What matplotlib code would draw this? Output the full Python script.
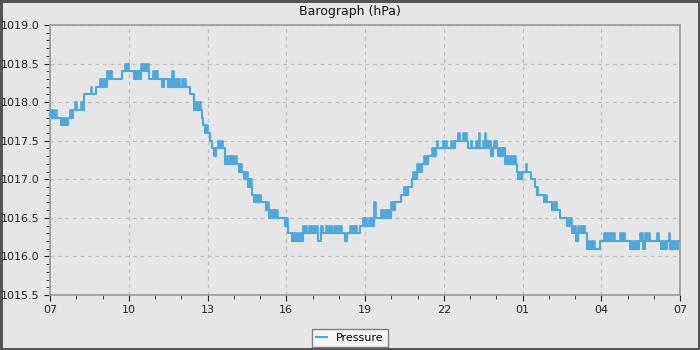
import numpy as np
import matplotlib
matplotlib.use("Agg")
import matplotlib.pyplot as plt
from matplotlib.dates import HourLocator, DateFormatter

# pressure trace: each segment starts at t_start (hours after 07:00) and holds
# between p_lo and p_hi (p_lo == p_hi -> steady, otherwise the sensor flickers)
t_start = [0.00, 0.27, 0.43, 0.69, 0.75, 0.88, 0.94, 1.04, 1.19, 1.30,
           1.55, 1.59, 1.76, 1.89, 2.18, 2.36, 2.74, 2.87, 3.00, 3.20,
           3.28, 3.33, 3.48, 3.76, 3.92, 4.13, 4.28, 4.36, 4.51, 4.66,
           4.71, 4.95, 5.04, 5.17, 5.33, 5.50, 5.63, 5.69, 5.74, 5.78,
           5.84, 5.90, 6.03, 6.10, 6.18, 6.26, 6.31, 6.39, 6.60, 6.67,
           6.86, 6.95, 7.11, 7.20, 7.33, 7.40, 7.53, 7.68, 7.78, 8.04,
           8.23, 8.36, 8.48, 8.57, 8.70, 8.95, 9.08, 9.22, 9.63, 9.78,
           9.88, 10.22, 10.31, 10.41, 10.51, 10.75, 10.82, 11.11, 11.24, 11.33,
           11.43, 11.71, 11.81, 11.94, 12.06, 12.15, 12.36, 12.40, 12.61, 12.99,
           13.14, 13.37, 13.50, 13.65, 13.80, 13.84, 13.97, 14.16, 14.26, 14.39,
           14.54, 14.69, 14.74, 14.79, 14.98, 15.11, 15.28, 15.43, 15.53, 15.62,
           15.72, 15.87, 15.94, 16.04, 16.09, 16.23, 16.33, 16.39, 16.48, 16.57,
           16.62, 16.79, 16.86, 16.91, 17.02, 17.08, 17.24, 17.33, 17.75, 17.78,
           17.84, 17.97, 18.13, 18.18, 18.31, 18.48, 18.54, 18.60, 18.82, 18.92,
           19.11, 19.33, 19.43, 19.71, 19.87, 20.04, 20.11, 20.37, 20.46, 20.77,
           20.97, 21.09, 21.51, 21.73, 21.92, 22.11, 22.43, 22.49, 22.58, 22.65,
           22.87, 23.12, 23.19, 23.29, 23.50, 23.57, 23.62, 23.92]
p_lo = [1017.8, 1017.8, 1017.7, 1017.8, 1017.8, 1017.9, 1017.9, 1017.9, 1017.9, 1018.1,
        1018.1, 1018.1, 1018.2, 1018.2, 1018.3, 1018.3, 1018.4, 1018.4, 1018.4, 1018.3,
        1018.4, 1018.3, 1018.4, 1018.3, 1018.3, 1018.3, 1018.2, 1018.3, 1018.2, 1018.2,
        1018.2, 1018.2, 1018.2, 1018.2, 1018.1, 1017.9, 1017.9, 1017.9, 1017.9, 1017.8,
        1017.7, 1017.6, 1017.6, 1017.5, 1017.4, 1017.3, 1017.4, 1017.4, 1017.4, 1017.2,
        1017.3, 1017.2, 1017.2, 1017.1, 1017.1, 1017.0, 1016.9, 1016.8, 1016.7, 1016.7,
        1016.6, 1016.5, 1016.6, 1016.5, 1016.5, 1016.4, 1016.3, 1016.2, 1016.3, 1016.3,
        1016.3, 1016.2, 1016.3, 1016.3, 1016.3, 1016.3, 1016.3, 1016.3, 1016.2, 1016.3,
        1016.3, 1016.3, 1016.4, 1016.4, 1016.4, 1016.4, 1016.5, 1016.5, 1016.5, 1016.6,
        1016.7, 1016.8, 1016.8, 1016.9, 1017.0, 1017.0, 1017.1, 1017.2, 1017.2, 1017.3,
        1017.3, 1017.4, 1017.4, 1017.4, 1017.4, 1017.4, 1017.4, 1017.5, 1017.5, 1017.5,
        1017.5, 1017.5, 1017.4, 1017.4, 1017.4, 1017.4, 1017.4, 1017.4, 1017.4, 1017.5,
        1017.4, 1017.3, 1017.4, 1017.4, 1017.4, 1017.3, 1017.4, 1017.2, 1017.2, 1017.1,
        1017.0, 1017.1, 1017.1, 1017.1, 1017.0, 1016.9, 1016.8, 1016.8, 1016.7, 1016.7,
        1016.6, 1016.6, 1016.5, 1016.4, 1016.3, 1016.2, 1016.3, 1016.3, 1016.1, 1016.1,
        1016.2, 1016.2, 1016.2, 1016.2, 1016.2, 1016.1, 1016.2, 1016.2, 1016.1, 1016.2,
        1016.2, 1016.2, 1016.2, 1016.1, 1016.2, 1016.2, 1016.1, 1016.2]
p_hi = [1017.9, 1017.8, 1017.8, 1017.8, 1017.9, 1017.9, 1018.0, 1017.9, 1018.0, 1018.1,
        1018.2, 1018.1, 1018.2, 1018.3, 1018.4, 1018.3, 1018.4, 1018.5, 1018.4, 1018.4,
        1018.4, 1018.4, 1018.5, 1018.3, 1018.4, 1018.3, 1018.3, 1018.3, 1018.3, 1018.4,
        1018.3, 1018.2, 1018.3, 1018.2, 1018.1, 1018.0, 1017.9, 1018.0, 1017.9, 1017.8,
        1017.7, 1017.7, 1017.6, 1017.5, 1017.4, 1017.4, 1017.4, 1017.5, 1017.4, 1017.3,
        1017.3, 1017.3, 1017.2, 1017.2, 1017.1, 1017.1, 1017.0, 1016.8, 1016.8, 1016.7,
        1016.7, 1016.6, 1016.6, 1016.6, 1016.5, 1016.5, 1016.3, 1016.3, 1016.4, 1016.3,
        1016.4, 1016.2, 1016.4, 1016.3, 1016.4, 1016.3, 1016.4, 1016.3, 1016.2, 1016.3,
        1016.4, 1016.3, 1016.4, 1016.5, 1016.4, 1016.5, 1016.7, 1016.5, 1016.6, 1016.7,
        1016.7, 1016.8, 1016.9, 1016.9, 1017.0, 1017.1, 1017.2, 1017.2, 1017.3, 1017.3,
        1017.4, 1017.4, 1017.5, 1017.4, 1017.5, 1017.4, 1017.5, 1017.5, 1017.6, 1017.5,
        1017.6, 1017.5, 1017.4, 1017.5, 1017.4, 1017.5, 1017.6, 1017.4, 1017.5, 1017.6,
        1017.5, 1017.4, 1017.4, 1017.5, 1017.4, 1017.4, 1017.4, 1017.3, 1017.2, 1017.1,
        1017.1, 1017.1, 1017.2, 1017.1, 1017.0, 1016.9, 1016.9, 1016.8, 1016.8, 1016.7,
        1016.7, 1016.6, 1016.5, 1016.5, 1016.4, 1016.3, 1016.4, 1016.3, 1016.2, 1016.1,
        1016.2, 1016.3, 1016.2, 1016.3, 1016.2, 1016.2, 1016.2, 1016.3, 1016.2, 1016.3,
        1016.2, 1016.3, 1016.2, 1016.2, 1016.2, 1016.3, 1016.2, 1016.2]
t_end = 24.0
start = np.datetime64("2024-01-01T07:00")

line_c = "#4ea9da"
bg = "#e6e6e6"

def to_time(h):
    return start + (np.asarray(h) * 3600).round().astype("timedelta64[s]")

edges = to_time(t_start + [t_end])
lo = np.array(p_lo + [p_lo[-1]])
hi = np.array(p_hi + [p_hi[-1]])

fig = plt.figure(figsize=(7, 3.5), dpi=100, facecolor=bg, edgecolor="#555555", linewidth=3.5)
ax = fig.add_axes([50/700, 1-295/350, 630/700, 270/350], facecolor=bg)

ax.step(edges, lo, where="post", color=line_c, lw=1.5, label="Pressure", zorder=3)
for i in range(len(t_start)):
    if hi[i] > lo[i]:
        ax.fill_between(edges[i:i+2], lo[i], hi[i], color=line_c, lw=1.2, zorder=3)

ax.set_xlim(edges[0], edges[-1])
ax.set_ylim(1015.5, 1019.0)
ax.xaxis.set_major_locator(HourLocator(byhour=range(1, 24, 3)))
ax.xaxis.set_minor_locator(HourLocator())
ax.xaxis.set_major_formatter(DateFormatter("%H"))
ax.yaxis.set_major_locator(plt.MultipleLocator(0.5))
ax.yaxis.set_minor_locator(plt.MultipleLocator(0.1))
ax.yaxis.set_major_formatter(plt.FormatStrFormatter("%.1f"))
ax.tick_params(which="both", direction="out", labelsize=8, colors="#222222")
ax.tick_params(which="major", length=4)
ax.tick_params(which="minor", length=3)
ax.grid(which="major", color="#c2c2c2", ls=(0, (3, 3)), lw=0.9)
for s in ax.spines.values():
    s.set_color("#9a9a9a")
    s.set_linewidth(1.2)

fig.text(0.5, 1-12/350, "Barograph (hPa)", ha="center", va="center", fontsize=9, color="#111111")
leg = fig.legend(loc="center", bbox_to_anchor=(0.5, 1-338/350), fontsize=8, handlelength=1.0,
                 fancybox=False, framealpha=1, facecolor="#f5f5f5", edgecolor="#808080",
                 borderpad=0.35, handletextpad=0.8)
leg.get_frame().set_linewidth(1.0)

fig.savefig("out.png", dpi=100, facecolor=bg, edgecolor="#555555")
